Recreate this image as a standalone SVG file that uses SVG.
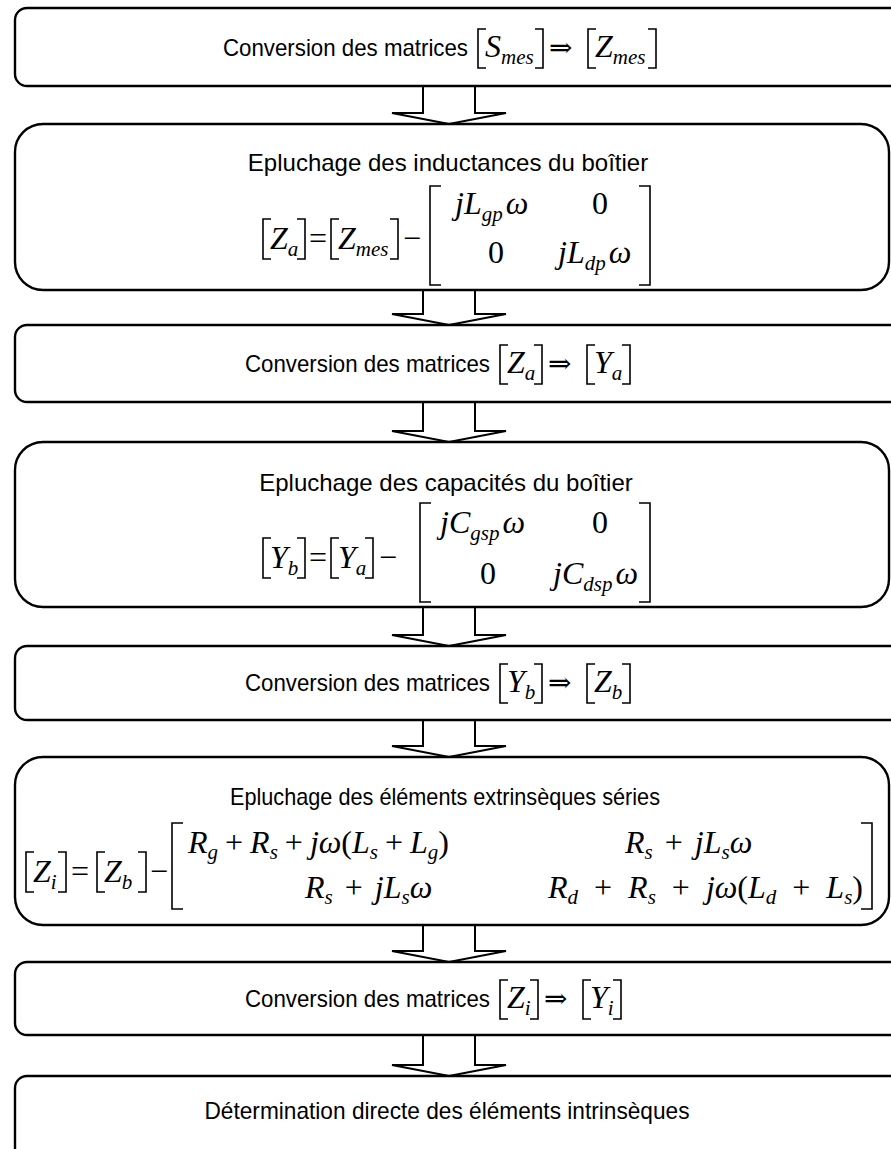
<svg xmlns="http://www.w3.org/2000/svg" width="891" height="1149" viewBox="0 0 891 1149">
<style>
.bx{fill:#fff;stroke:#000;stroke-width:2.4}
.cn{fill:#fff;stroke:#000;stroke-width:2}
.t{font-family:"Liberation Sans",Arial,sans-serif;font-size:24px;fill:#000}
.tc{text-anchor:middle}
.m{font-family:"Liberation Serif","Times New Roman",serif;font-style:italic;font-size:32px;fill:#000}
.sb{font-size:21px}
.up{font-style:normal}
.ar{font-family:"Liberation Serif","DejaVu Serif",serif;font-style:normal;font-size:28px}
.br{fill:none;stroke:#000;stroke-width:1.6}
</style>
<rect width="891" height="1149" fill="#fff"/>
<g id="connectors">
<path class="cn" d="M423,86 V113 H392 L449,124 L506,113 H475 V86"/>
<path class="cn" d="M423,290 V314 H392 L449,325 L506,314 H475 V290"/>
<path class="cn" d="M423,402 V431 H392 L449,442 L506,431 H475 V402"/>
<path class="cn" d="M423,607 V635 H392 L449,646 L506,635 H475 V607"/>
<path class="cn" d="M423,720 V746 H392 L449,757 L506,746 H475 V720"/>
<path class="cn" d="M423,925 V951 H392 L449,962 L506,951 H475 V925"/>
<path class="cn" d="M423,1035 V1065 H392 L449,1076 L506,1065 H475 V1035"/>
</g>
<g id="n1">
<rect class="bx" x="15" y="8" width="895" height="78" rx="12"/>
<text class="t" x="223" y="56" textLength="245" lengthAdjust="spacingAndGlyphs">Conversion des matrices</text>
<path class="br" d="M486,29 H478 V68 H486"/>
<text class="m" x="485" y="57">S<tspan class="sb" dy="7">mes</tspan></text>
<path class="br" d="M535,29 H543 V68 H535"/>
<text class="ar" x="549" y="57">⇒</text>
<path class="br" d="M596,29 H588 V68 H596"/>
<text class="m" x="595" y="57">Z<tspan class="sb" dy="7">mes</tspan></text>
<path class="br" d="M648,29 H656 V68 H648"/>
</g>
<g id="n2">
<rect class="bx" x="15" y="124" width="874" height="166" rx="28"/>
<text class="t tc" x="448" y="171">Epluchage des inductances du boîtier</text>
<path class="br" d="M271,219 H263 V259 H271"/>
<text class="m" x="270" y="249">Z<tspan class="sb" dy="7">a</tspan></text>
<path class="br" d="M297,219 H305 V259 H297"/>
<text class="m up" x="309" y="249">=</text>
<path class="br" d="M339,219 H331 V259 H339"/>
<text class="m" x="338" y="249">Z<tspan class="sb" dy="7">mes</tspan></text>
<path class="br" d="M390,219 H398 V259 H390"/>
<text class="m up" x="403" y="249">−</text>
<path class="br" d="M441,186 H430 V285 H441"/>
<text class="m" x="455" y="214">jL<tspan class="sb" dy="7">gp</tspan><tspan dx="3" dy="-7">ω</tspan></text>
<text class="m up" x="592" y="214">0</text>
<text class="m up" x="488" y="263">0</text>
<text class="m" x="558" y="263">jL<tspan class="sb" dy="7">dp</tspan><tspan dx="3" dy="-7">ω</tspan></text>
<path class="br" d="M639,186 H650 V285 H639"/>
</g>
<g id="n3">
<rect class="bx" x="15" y="325" width="895" height="77" rx="12"/>
<text class="t" x="245" y="372" textLength="245" lengthAdjust="spacingAndGlyphs">Conversion des matrices</text>
<path class="br" d="M508,345 H500 V384 H508"/>
<text class="m" x="507" y="373">Z<tspan class="sb" dy="7">a</tspan></text>
<path class="br" d="M534,345 H542 V384 H534"/>
<text class="ar" x="548" y="373">⇒</text>
<path class="br" d="M595,345 H587 V384 H595"/>
<text class="m" x="594" y="373">Y<tspan class="sb" dy="7">a</tspan></text>
<path class="br" d="M622,345 H630 V384 H622"/>
</g>
<g id="n4">
<rect class="bx" x="15" y="442" width="874" height="165" rx="28"/>
<text class="t tc" x="446" y="491">Epluchage des capacités du boîtier</text>
<path class="br" d="M271,538 H263 V578 H271"/>
<text class="m" x="270" y="568">Y<tspan class="sb" dy="7">b</tspan></text>
<path class="br" d="M297,538 H305 V578 H297"/>
<text class="m up" x="309" y="568">=</text>
<path class="br" d="M339,538 H331 V578 H339"/>
<text class="m" x="338" y="568">Y<tspan class="sb" dy="7">a</tspan></text>
<path class="br" d="M365,538 H373 V578 H365"/>
<text class="m up" x="379" y="568">−</text>
<path class="br" d="M431,503 H420 V602 H431"/>
<text class="m" x="440" y="533">jC<tspan class="sb" dy="7">gsp</tspan><tspan dx="3" dy="-7">ω</tspan></text>
<text class="m up" x="592" y="533">0</text>
<text class="m up" x="480" y="584">0</text>
<text class="m" x="553" y="584">jC<tspan class="sb" dy="7">dsp</tspan><tspan dx="3" dy="-7">ω</tspan></text>
<path class="br" d="M639,503 H650 V602 H639"/>
</g>
<g id="n5">
<rect class="bx" x="15" y="646" width="895" height="74" rx="12"/>
<text class="t" x="245" y="691" textLength="245" lengthAdjust="spacingAndGlyphs">Conversion des matrices</text>
<path class="br" d="M508,664 H500 V703 H508"/>
<text class="m" x="507" y="692">Y<tspan class="sb" dy="7">b</tspan></text>
<path class="br" d="M534,664 H542 V703 H534"/>
<text class="ar" x="548" y="692">⇒</text>
<path class="br" d="M595,664 H587 V703 H595"/>
<text class="m" x="594" y="692">Z<tspan class="sb" dy="7">b</tspan></text>
<path class="br" d="M622,664 H630 V703 H622"/>
</g>
<g id="n6">
<rect class="bx" x="15" y="757" width="874" height="168" rx="28"/>
<text class="t tc" x="445" y="805" textLength="430" lengthAdjust="spacingAndGlyphs">Epluchage des éléments extrinsèques séries</text>
<path class="br" d="M34,852 H26 V892 H34"/>
<text class="m" x="33" y="882">Z<tspan class="sb" dy="7">i</tspan></text>
<path class="br" d="M58,852 H66 V892 H58"/>
<text class="m up" x="71" y="882">=</text>
<path class="br" d="M105,852 H97 V892 H105"/>
<text class="m" x="104" y="882">Z<tspan class="sb" dy="7">b</tspan></text>
<path class="br" d="M138,852 H146 V892 H138"/>
<text class="m up" x="150" y="882">−</text>
<path class="br" d="M183,823 H172 V909 H183"/>
<text class="m" x="188" y="853">R<tspan class="sb" dy="6">g</tspan><tspan class="up" dx="7" dy="-6">+</tspan><tspan dx="7">R</tspan><tspan class="sb" dy="6">s</tspan><tspan class="up" dx="7" dy="-6">+</tspan><tspan dx="7">jω</tspan><tspan class="up">(</tspan>L<tspan class="sb" dy="6">s</tspan><tspan class="up" dx="7" dy="-6">+</tspan><tspan dx="7">L</tspan><tspan class="sb" dy="6">g</tspan><tspan class="up" dy="-6">)</tspan></text>
<text class="m" x="625" y="853">R<tspan class="sb" dy="6">s</tspan><tspan class="up" dx="12" dy="-6">+</tspan><tspan dx="12">jL</tspan><tspan class="sb" dy="6">s</tspan><tspan dy="-6">ω</tspan></text>
<text class="m" x="305" y="898">R<tspan class="sb" dy="6">s</tspan><tspan class="up" dx="12" dy="-6">+</tspan><tspan dx="12">jL</tspan><tspan class="sb" dy="6">s</tspan><tspan dy="-6">ω</tspan></text>
<text class="m" x="548" y="898">R<tspan class="sb" dy="6">d</tspan><tspan class="up" dx="16" dy="-6">+</tspan><tspan dx="16">R</tspan><tspan class="sb" dy="6">s</tspan><tspan class="up" dx="16" dy="-6">+</tspan><tspan dx="16">jω</tspan><tspan class="up">(</tspan>L<tspan class="sb" dy="6">d</tspan><tspan class="up" dx="16" dy="-6">+</tspan><tspan dx="16">L</tspan><tspan class="sb" dy="6">s</tspan><tspan class="up" dy="-6">)</tspan></text>
<path class="br" d="M861,823 H872 V909 H861"/>
</g>
<g id="n7">
<rect class="bx" x="15" y="962" width="895" height="73" rx="12"/>
<text class="t" x="245" y="1007" textLength="245" lengthAdjust="spacingAndGlyphs">Conversion des matrices</text>
<path class="br" d="M508,980 H500 V1019 H508"/>
<text class="m" x="507" y="1008">Z<tspan class="sb" dy="7">i</tspan></text>
<path class="br" d="M530,980 H538 V1019 H530"/>
<text class="ar" x="544" y="1008">⇒</text>
<path class="br" d="M591,980 H583 V1019 H591"/>
<text class="m" x="590" y="1008">Y<tspan class="sb" dy="7">i</tspan></text>
<path class="br" d="M613,980 H621 V1019 H613"/>
</g>
<g id="n8">
<rect class="bx" x="15" y="1076" width="895" height="100" rx="12"/>
<text class="t tc" x="447" y="1119" textLength="485" lengthAdjust="spacingAndGlyphs">Détermination directe des éléments intrinsèques</text>
</g>
</svg>
